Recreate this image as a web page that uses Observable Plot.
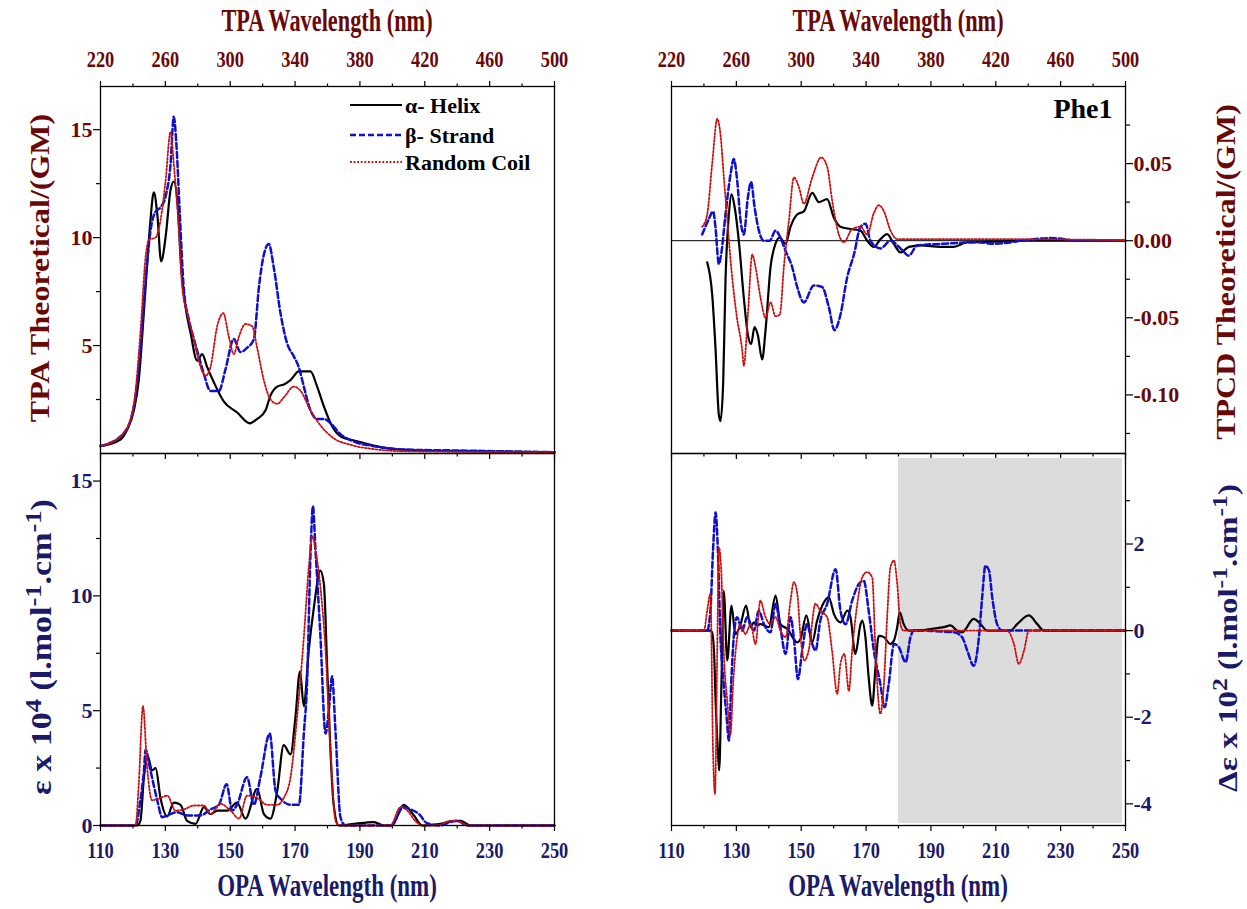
<!DOCTYPE html>
<html><head><meta charset="utf-8">
<script src="https://cdn.jsdelivr.net/npm/d3@7"></script>
<script src="https://cdn.jsdelivr.net/npm/@observablehq/plot@0.6"></script>
<style>
body{margin:0;background:#fff;}
#fig{position:relative;width:1247px;height:909px;overflow:hidden;background:#fff;font-family:"Liberation Serif","Times New Roman",serif;font-weight:bold;}
#fig svg.p{position:absolute;}
.lbl{position:absolute;white-space:nowrap;font-weight:bold;line-height:1;}
.lbl sup{font-size:0.78em;vertical-align:0.45em;line-height:0;}
</style></head><body><div id="fig"></div><script>
// ---------- tick values ----------
const opaTicksMajor = [110,130,150,170,190,210,230,250];
const opaTicksMinor = [120,140,160,180,200,220,240];
const tpaTicksMajor = [220,260,300,340,380,420,460,500];
const tpaTicksMinor = [240,280,320,360,400,440,480];
const tpaYMajor = [5,10,15], tpaYMinor = [2.5,7.5,12.5];
const epsYMajor = [0,5,10,15], epsYMinor = [2.5,7.5,12.5];
const tpcdYMajor = [-0.10,-0.05,0,0.05], tpcdYMinor = [-0.125,-0.075,-0.025,0.025,0.075];
const cdYMajor = [-4,-2,0,2], cdYMinor = [-3,-1,1,3];
const shadeRange = [180,250];
const seriesNames = ["α- Helix","β- Strand","Random Coil"];

// ---------- TPA (top left), x = TPA wavelength ----------
const tpaHelix = [[220,0.34],[232.3,0.65],[236.4,1.1],[240.6,2.0],[243.6,3.4],[246.7,6.5],[248.8,8.8],[250.8,10.8],[252.9,12.1],[255.0,11.1],[257.4,8.9],[260.1,10.0],[263.2,12.2],[265.2,12.6],[267.7,11.4],[269.8,8.6],[272.4,6.8],[275.5,5.6],[279.6,4.3],[282.7,4.6],[285.8,4.0],[289.9,3.3],[296.1,2.4],[304.3,1.9],[312.1,1.4],[316.6,1.6],[321.8,2.0],[324.9,2.7],[329.0,3.1],[333.1,3.2],[337.2,3.4],[342.3,3.8],[349.5,3.8],[353.6,3.1],[357.7,2.2],[361.9,1.4],[368.0,0.8],[378.3,0.57],[388.6,0.37],[398.9,0.22],[419.4,0.14],[440,0.11],[500,0.06]];
const tpaStrand = [[220,0.34],[234.4,0.95],[240.6,2.2],[244.7,4.9],[247.8,8.0],[250.8,10.3],[253.9,11.2],[257.0,11.4],[260.1,11.9],[263.2,13.4],[265.2,15.6],[266.9,14.2],[268.9,11.1],[271.4,7.6],[274.5,6.2],[277.6,5.3],[280.6,4.5],[283.7,3.7],[287.8,2.9],[293.0,2.9],[297.1,3.9],[302.2,5.3],[306.3,4.7],[310.5,4.9],[314.6,5.3],[317.7,7.7],[320.7,9.2],[323.8,9.7],[326.9,8.6],[331.0,6.5],[335.1,5.1],[339.2,4.5],[342.3,4.0],[345.4,3.1],[349.5,2.0],[353.6,1.6],[357.7,1.6],[361.9,1.4],[368.0,0.9],[378.3,0.5],[388.6,0.34],[409.1,0.18],[440,0.14],[500,0.06]];
const tpaCoil = [[220,0.34],[234.4,0.95],[240.6,2.3],[244.7,5.7],[247.8,9.1],[249.8,9.9],[253.9,10.0],[257.0,10.8],[260.1,12.6],[263.2,14.9],[265.2,13.4],[267.7,11.1],[270.4,7.7],[273.5,6.5],[277.6,5.3],[280.6,4.3],[284.8,3.6],[287.8,4.0],[292.0,5.9],[295.7,6.5],[299.2,5.4],[302.2,4.6],[305.3,5.4],[309.4,6.0],[313.5,5.9],[316.6,4.9],[320.7,3.4],[324.9,2.5],[329.0,2.3],[333.1,2.6],[339.2,3.1],[343.4,2.9],[349.5,2.0],[355.7,1.3],[363.9,0.7],[374.2,0.4],[388.6,0.2],[409.1,0.1],[500,0.06]];

// ---------- OPA epsilon (bottom left), x = OPA wavelength ----------
const epsHelix = [[110,0],[121.3,0],[122.3,0.2],[123.4,2.1],[124.6,3.0],[125.9,2.4],[127.0,2.5],[128.5,1.2],[130.6,0.4],[132.6,1.0],[134.7,0.9],[136.7,0.2],[139.3,0.07],[141.9,0.8],[143.9,0.5],[146.0,0.65],[149.1,0.65],[152.1,1.0],[154.7,0.3],[158.3,1.6],[160.4,0.5],[162.4,0.3],[164.5,1.5],[166.5,3.5],[168.6,3.1],[170.1,4.7],[171.5,6.7],[172.7,5.2],[174.2,7.6],[175.8,9.5],[177.8,11.1],[178.9,10.5],[179.9,6.9],[180.9,3.3],[181.9,0.9],[183.5,0],[188.1,0.07],[194.3,0.15],[197.4,0],[199.9,0],[203.5,0.9],[206.6,0.45],[209.2,0],[214.8,0.07],[219.0,0.2],[221.0,0.2],[224.1,0],[250,0]];
const epsStrand = [[110,0],[120.8,0],[122.3,1.1],[123.4,2.4],[123.9,3.3],[125.4,2.4],[127.5,1.1],[129.0,0.36],[131.6,0.5],[133.6,0.58],[136.7,0.44],[140.8,0.44],[143.9,0.7],[146.5,0.9],[148.9,1.8],[150.6,0.65],[152.1,0.9],[155.2,2.1],[157.3,0.9],[159.3,2.1],[162.2,4.0],[164.0,1.5],[166.0,1.1],[168.6,0.9],[171.2,0.9],[172.7,4.0],[173.7,6.2],[174.8,12.0],[175.5,13.9],[176.3,12.0],[177.8,8.3],[179.4,4.0],[180.4,5.0],[181.4,6.5],[182.5,4.0],[184.0,0.36],[185.5,0],[199.4,0],[203.5,0.8],[205.6,0.7],[208.2,0.5],[210.7,0.1],[214.8,0],[217.9,0.15],[220.0,0.2],[223.1,0],[250,0]];
const epsCoil = [[110,0],[120.8,0],[121.8,1.8],[123.1,5.2],[124.4,2.5],[125.9,1.1],[128.5,1.2],[130.6,1.3],[133.1,0.65],[135.7,0.7],[138.8,0.87],[141.9,0.87],[143.9,0.5],[147.0,0.94],[150.1,0.65],[152.7,0.3],[155.2,1.3],[158.3,1.2],[161.4,0.9],[164.5,0.9],[166.5,1.2],[168.6,2.1],[170.6,4.7],[172.7,8.2],[174.2,11.2],[175.3,12.6],[176.3,12.0],[177.8,10.4],[179.4,7.6],[180.9,3.3],[182.5,0.2],[183.5,0],[199.4,0],[202.5,0.8],[204.6,0.65],[207.1,0.2],[209.2,0],[213.8,0],[217.9,0.2],[221.0,0.15],[223.1,0],[250,0]];

// ---------- TPCD (top right), x = TPA wavelength ----------
const tpcdHelix = [[242.0,-0.014],[245.1,-0.035],[247.1,-0.069],[249.2,-0.113],[250.2,-0.117],[251.9,-0.091],[253.3,-0.026],[255.4,0.017],[257.0,0.030],[258.9,0.022],[261.5,0],[264.6,-0.037],[267.1,-0.061],[269.1,-0.067],[271.2,-0.056],[273.2,-0.061],[275.9,-0.077],[278.0,-0.058],[281.1,-0.017],[284.1,-0.002],[286.8,0.002],[290.3,-0.002],[293.4,0.009],[297.5,0.017],[301.6,0.019],[306.8,0.031],[310.9,0.025],[316.0,0.027],[320.1,0.015],[324.2,0.009],[330.4,0.0076],[336.6,0.0065],[340.7,0],[344.8,-0.004],[348.9,0.001],[353.0,0.0043],[357.1,-0.002],[361.2,-0.0076],[366.4,-0.004],[373.6,-0.003],[385.9,-0.004],[394.1,-0.004],[402.4,-0.001],[418.8,-0.0006],[439.4,0],[500,0]];
const tpcdStrand = [[238.9,0.004],[243.0,0.014],[245.7,0.019],[247.1,0.009],[249.2,-0.015],[250.6,-0.009],[253.3,0.017],[256.4,0.043],[258.4,0.053],[260.5,0.039],[262.6,0.013],[264.6,0.004],[267.1,0.028],[269.1,0.038],[271.2,0.022],[273.9,0.0065],[276.9,0],[280.6,0],[284.1,0.0065],[287.2,0.002],[290.3,-0.0065],[294.4,-0.017],[297.5,-0.030],[301.6,-0.040],[307.8,-0.029],[312.9,-0.030],[317.0,-0.043],[320.5,-0.058],[324.2,-0.048],[328.3,-0.024],[332.5,-0.009],[336.6,0.009],[339.7,0.011],[342.7,0],[348.9,-0.005],[355.1,0],[361.2,-0.005],[366.4,-0.0097],[371.5,-0.003],[388.0,-0.002],[408.5,-0.001],[418.8,-0.002],[439.4,0.0005],[453.8,0.0017],[472.3,0],[500,0]];
const tpcdCoil = [[238.9,0.009],[242.0,0.017],[245.1,0.050],[248.2,0.079],[250.2,0.069],[252.3,0.041],[254.3,0.015],[256.8,-0.017],[260.1,-0.048],[263.6,-0.071],[264.6,-0.081],[267.1,-0.048],[269.8,-0.009],[271.8,-0.017],[274.9,-0.037],[278.0,-0.050],[281.1,-0.040],[284.1,-0.049],[286.8,-0.048],[289.3,-0.017],[292.4,0.013],[295.5,0.041],[298.5,0.035],[301.6,0.024],[306.8,0.041],[312.3,0.054],[316.0,0.048],[319.1,0.026],[323.2,0.004],[326.3,-0.001],[331.4,0.0076],[336.6,0.009],[340.7,0.004],[344.8,0.018],[347.9,0.023],[351.0,0.019],[355.1,0.0065],[359.2,0.001],[377.7,0.001],[418.8,0.001],[500,0.0004]];

// ---------- OPA delta-epsilon (bottom right), x = OPA wavelength ----------
const cdHelix = [[110,0],[122.0,0],[122.5,-0.04],[123.1,-0.46],[123.6,-1.62],[124.3,-2.77],[124.7,-3.23],[125.4,-1.23],[126.1,0.92],[127.2,-0.69],[128.5,0.58],[129.7,-0.08],[131.3,0.15],[133.0,0.58],[134.4,0.08],[135.4,0.19],[136.4,0.12],[137.4,0.15],[140.0,0.08],[142.1,0.81],[143.6,0.15],[145.7,0.04],[148.8,-0.27],[149.8,-0.19],[151.6,0.35],[153.4,-0.27],[154.9,0.23],[156.5,0.58],[158.5,0.77],[160.1,0.38],[162.1,0.19],[164.2,0.46],[165.2,0.31],[166.7,-0.54],[168.3,0.15],[168.8,0.23],[169.8,-0.15],[170.8,-1.08],[171.9,-1.73],[172.9,-0.85],[173.9,-0.12],[175.5,-0.15],[177.5,-0.31],[178.6,-0.23],[179.6,0.08],[180.4,0.42],[181.6,0.15],[183.2,0],[194.0,0.08],[196.0,0.12],[198.1,0],[199.6,-0.04],[203.2,0.27],[205.3,0.15],[207.3,0],[214.5,0],[216.6,0.15],[220.2,0.35],[222.8,0.15],[224.8,0],[250,0]];
const cdStrand = [[110,0],[121.0,0],[122.0,0.46],[122.8,1.85],[123.6,2.73],[124.3,1.85],[125.1,-0.15],[126.1,-1.23],[127.0,-2.0],[127.7,-2.54],[128.4,-1.23],[129.2,-0.15],[130.2,0.31],[131.8,0],[133.3,0.31],[135.4,0],[136.9,0.46],[138.5,0.15],[140.5,-0.04],[142.1,0.62],[143.4,0.15],[145.2,-0.54],[146.7,0.31],[147.7,-0.15],[149.0,-1.12],[150.3,-0.46],[151.8,0.15],[153.4,-0.31],[154.4,-0.46],[155.9,0.23],[158.0,0.62],[160.6,1.42],[162.1,0.46],[163.7,0.15],[165.7,0.69],[167.8,1.08],[169.3,1.15],[170.8,0.46],[172.4,-0.46],[174.4,-1.23],[175.7,-1.77],[177.0,-1.23],[178.6,-0.31],[180.1,-0.38],[182.2,-0.73],[183.7,-0.15],[184.7,0],[197.1,-0.04],[199.6,-0.15],[201.2,-0.46],[203.2,-0.81],[204.8,-0.15],[205.8,0.77],[206.8,1.5],[207.9,1.39],[208.9,0.77],[210.4,0.15],[212.0,0],[250,0]];
const cdCoil = [[110,0],[120.0,0],[121.0,0.46],[122.0,0.85],[122.8,-2.77],[123.4,-3.77],[124.1,-0.46],[124.6,1.92],[125.3,1.46],[126.1,-0.46],[127.2,-1.62],[128.2,-2.39],[129.0,-1.23],[130.0,-0.31],[131.3,0.15],[132.8,-0.08],[134.4,0.15],[135.9,-0.31],[137.4,0.69],[139.0,0.31],[140.5,0.15],[142.1,0.31],[143.6,0],[145.2,-0.15],[146.7,0.69],[147.7,1.12],[148.8,0.85],[149.8,-0.15],[151.0,-0.69],[152.3,-0.46],[154.4,0.62],[155.9,0.46],[158.0,0.31],[159.5,-0.46],[161.1,-1.46],[162.1,-0.77],[163.3,-0.54],[164.7,-1.39],[165.7,-0.46],[167.3,0.62],[168.8,1.23],[170.3,1.35],[171.9,1.23],[172.9,-0.46],[174.4,-1.92],[175.5,-1.23],[176.5,0.31],[177.5,1.46],[178.6,1.62],[179.6,1.08],[180.6,0.15],[181.6,0],[213.5,0],[215.6,-0.31],[217.1,-0.77],[218.7,-0.46],[220.2,0],[250,0]];

// ---------- styles ----------
const MAROON = "#6a0808", NAVY = "#1a1a68";
const lineStyles = [
  {stroke:"#000000", strokeWidth:2.2},
  {stroke:"#1010cc", strokeWidth:2.5, strokeDasharray:"6,3"},
  {stroke:"#cc1010", strokeWidth:1.8, strokeDasharray:"1.8,1.8"}
];
const FONT = "'Liberation Serif','Times New Roman',serif";

function squeeze(svg, sx, which) {
  svg.querySelectorAll(`g[aria-label="${which}-axis tick label"] text`).forEach(t => {
    const tr = t.getAttribute("transform") || "";
    const x = t.getAttribute("x");
    if (x !== null) { t.removeAttribute("x"); t.setAttribute("transform", `${tr} translate(${x},0) scale(${sx},1)`); }
    else t.setAttribute("transform", `${tr} scale(${sx},1)`);
  });
}

function panel({series, xDomain, yDomain, left, top, width, height, mL, mR, mT, mB,
                xMajor, xMinor, xLabelAnchor, yMajor, yMinor, yAnchor, yFormat, color, extra = [], zero = false}) {
  const marks = [...extra];
  if (zero) marks.push(Plot.ruleY([0], {stroke:"#000", strokeWidth:1}));
  series.forEach((s, i) => marks.push(Plot.line(s, {x: d => d[0], y: d => d[1], curve: "monotone-x", ...lineStyles[i]})));
  marks.push(Plot.frame({stroke:"#000", strokeWidth:1.3}));
  marks.push(Plot.axisY(yMajor, {anchor: yAnchor, tickSize: 7, stroke:"#000", strokeWidth:1.2, fill:"none", label:null}));
  marks.push(Plot.axisY(yMinor, {anchor: yAnchor, tickSize: 4, stroke:"#000", strokeWidth:1.2, fill:"none", label:null}));
  marks.push(Plot.axisY(yMajor, {anchor: yAnchor, tickSize: 0, tickPadding: 8, fill: color, fontSize: 22, fontWeight:"bold", fontFamily: FONT, tickFormat: yFormat, label:null}));
  const xa = xLabelAnchor === "top" ? "top" : "bottom";
  const xo = xLabelAnchor === "top" ? "bottom" : null;
  marks.push(Plot.axisX(xMajor, {anchor: xa, tickSize: 6, stroke:"#000", strokeWidth:1.2, fill:"none", label:null}));
  marks.push(Plot.axisX(xMinor, {anchor: xa, tickSize: 3.5, stroke:"#000", strokeWidth:1.2, fill:"none", label:null}));
  marks.push(Plot.axisX(xMajor, {anchor: xa, tickSize: 0, tickPadding: xa === "top" ? 20 : 16, fill: color, fontSize: 23, fontWeight:"bold", fontFamily: FONT, label:null}));
  if (xo) {
    marks.push(Plot.axisX(xMajor, {anchor: xo, tickSize: 6, stroke:"#000", strokeWidth:1.2, fill:"none", label:null}));
    marks.push(Plot.axisX(xMinor, {anchor: xo, tickSize: 3.5, stroke:"#000", strokeWidth:1.2, fill:"none", label:null}));
  }
  const svg = Plot.plot({
    width, height, marginLeft: mL, marginRight: mR, marginTop: mT, marginBottom: mB,
    x: {domain: xDomain, axis: null},
    y: {domain: yDomain, axis: null},
    style: {background: "transparent", overflow: "visible", fontFamily: FONT},
    marks
  });
  squeeze(svg, 0.8, "x");
  svg.classList.add("p");
  svg.style.left = left + "px";
  svg.style.top = top + "px";
  return svg;
}

const fig = document.getElementById("fig");
const fmt2 = d => d.toFixed(2);
const fmt0 = d => String(d);

fig.appendChild(panel({series:[tpaHelix,tpaStrand,tpaCoil], xDomain:[220,500], yDomain:[0,17],
  left:0, top:0, width:600, height:470, mL:100, mR:46, mT:86, mB:17,
  xMajor:tpaTicksMajor, xMinor:tpaTicksMinor, xLabelAnchor:"top",
  yMajor:tpaYMajor, yMinor:tpaYMinor, yAnchor:"left", yFormat:fmt0, color:MAROON}));

fig.appendChild(panel({series:[tpcdHelix,tpcdStrand,tpcdCoil], xDomain:[220,500], yDomain:[-0.138,0.1],
  left:600, top:0, width:647, height:470, mL:71, mR:122, mT:86, mB:17,
  xMajor:tpaTicksMajor, xMinor:tpaTicksMinor, xLabelAnchor:"top",
  yMajor:tpcdYMajor, yMinor:tpcdYMinor, yAnchor:"right", yFormat:fmt2, color:MAROON, zero:true,
  extra:[Plot.text(["Phe1"], {frameAnchor:"top-right", dx:-13, dy:12, fontSize:28, fontWeight:"bold", fontFamily:FONT, fill:"#000", lineAnchor:"top", textAnchor:"end"})]}));

fig.appendChild(panel({series:[epsHelix,epsStrand,epsCoil], xDomain:[110,250], yDomain:[0,16.2],
  left:0, top:440, width:600, height:469, mL:100, mR:46, mT:13, mB:84,
  xMajor:opaTicksMajor, xMinor:opaTicksMinor, xLabelAnchor:"bottom",
  yMajor:epsYMajor, yMinor:epsYMinor, yAnchor:"left", yFormat:fmt0, color:NAVY}));

fig.appendChild(panel({series:[cdHelix,cdStrand,cdCoil], xDomain:[110,250], yDomain:[-4.5,4.09],
  left:600, top:440, width:647, height:469, mL:71, mR:122, mT:13, mB:84,
  xMajor:opaTicksMajor, xMinor:opaTicksMinor, xLabelAnchor:"bottom",
  yMajor:cdYMajor, yMinor:cdYMinor, yAnchor:"right", yFormat:fmt0, color:NAVY,
  extra:[Plot.rect([{x1:shadeRange[0], x2:shadeRange[1]}], {x1:"x1", x2:"x2", fill:"#dcdcdc", insetTop:5, insetBottom:2, insetRight:3})]}));

// ---------- legend (top-left panel) ----------
const NS = "http://www.w3.org/2000/svg";
const leg = document.createElementNS(NS, "svg");
leg.setAttribute("width", 220); leg.setAttribute("height", 90);
leg.style.position = "absolute"; leg.style.left = "340px"; leg.style.top = "90px";
seriesNames.forEach((name, i) => {
  const y = [15, 45, 72][i];
  const ln = document.createElementNS(NS, "line");
  ln.setAttribute("x1", 10); ln.setAttribute("x2", 62); ln.setAttribute("y1", y); ln.setAttribute("y2", y);
  const st = lineStyles[i];
  ln.setAttribute("stroke", st.stroke); ln.setAttribute("stroke-width", st.strokeWidth);
  if (st.strokeDasharray) ln.setAttribute("stroke-dasharray", st.strokeDasharray);
  leg.appendChild(ln);
  const t = document.createElementNS(NS, "text");
  t.setAttribute("x", 65); t.setAttribute("y", y + 8);
  t.setAttribute("font-family", FONT); t.setAttribute("font-weight", "bold"); t.setAttribute("font-size", 22);
  t.textContent = name;
  leg.appendChild(t);
});
fig.appendChild(leg);

// ---------- axis titles ----------
function label(html, cx, cy, size, color, rotate, sq) {
  const d = document.createElement("div");
  d.className = "lbl";
  d.innerHTML = html;
  d.style.left = cx + "px"; d.style.top = cy + "px";
  d.style.fontSize = size + "px"; d.style.color = color;
  d.style.transform = rotate ? `translate(-50%,-50%) rotate(-90deg) scaleY(${sq})` : `translate(-50%,-50%) scaleX(${sq})`;
  fig.appendChild(d);
}
label("TPA Wavelength (nm)", 327, 20, 31, MAROON, false, 0.72);
label("TPA Wavelength (nm)", 898, 20, 31, MAROON, false, 0.72);
label("OPA Wavelength (nm)", 327, 885, 31, NAVY, false, 0.74);
label("OPA Wavelength (nm)", 898, 885, 31, NAVY, false, 0.74);
label("TPA Theoretical/(GM)", 40, 268, 32, MAROON, true, 0.85);
label("ε x 10<sup>4</sup> (l.mol<sup>-1</sup>.cm<sup>-1</sup>)", 42, 647, 34, NAVY, true, 0.85);
label("TPCD Theoretical/(GM)", 1226, 272, 32, MAROON, true, 0.85);
label("Δε x 10<sup>2</sup> (l.mol<sup>-1</sup>.cm<sup>-1</sup>)", 1228, 638, 33, NAVY, true, 0.85);
</script></body></html>
